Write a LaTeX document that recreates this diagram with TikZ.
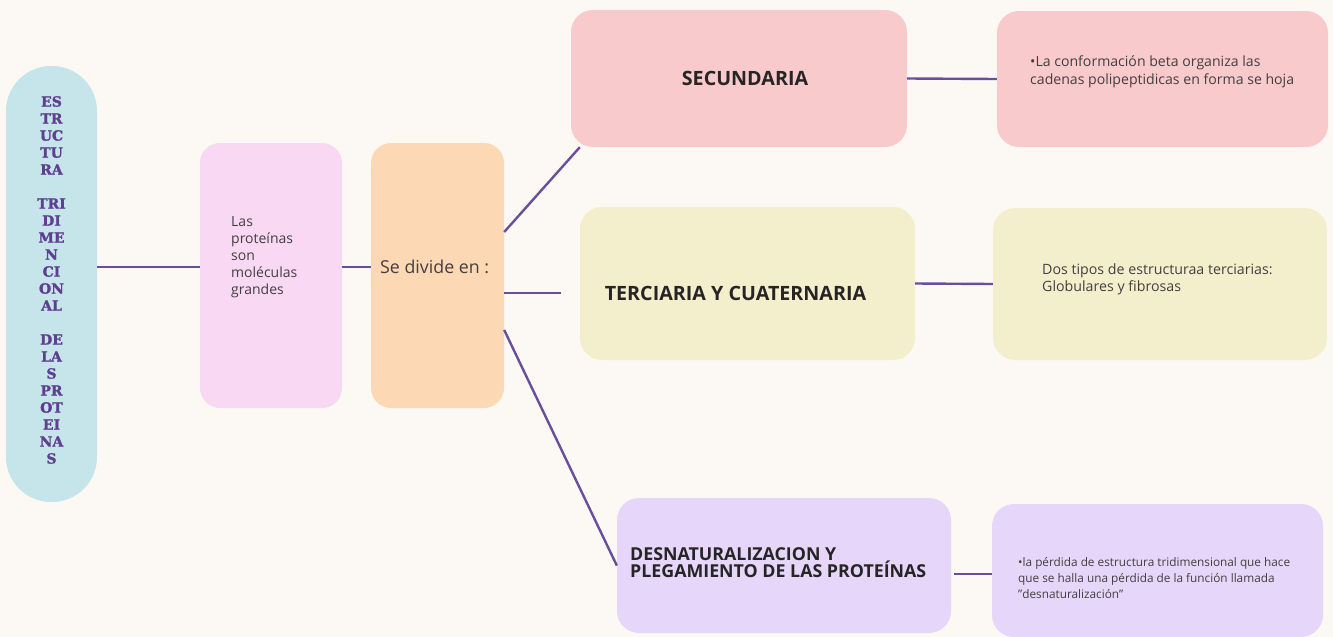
\documentclass[tikz,border=0pt]{standalone}
\usepackage{fontspec}
\setmainfont{Open Sans}
\newfontfamily\slabfont{DejaVu Serif}[BoldFeatures={FakeBold=1.5}]
\newfontfamily\headfont{Open Sans}
\usetikzlibrary{calc}
\definecolor{bgc}{HTML}{FCF9F4}
\definecolor{cblue}{HTML}{C6E5EA}
\definecolor{clas}{HTML}{F8D8F3}
\definecolor{cpeach}{HTML}{FDD8B5}
\definecolor{csec}{HTML}{F9CACB}
\definecolor{cter}{HTML}{F3EFCD}
\definecolor{cdes}{HTML}{E5D6FA}
\definecolor{cline}{HTML}{6B4E9B}
\definecolor{ccol}{HTML}{5E3F90}
\definecolor{ctxt}{HTML}{433F3F}
\definecolor{chead}{HTML}{262424}
\tikzset{
  box/.style={draw=none, inner sep=0pt, rounded corners=22pt},
  link/.style={draw=cline, line width=2.4pt},
  body/.style={inner sep=0pt, align=left, text=ctxt},
  head/.style={inner sep=0pt, align=left, text=chead, font=\headfont\bfseries},
}
\begin{document}
\begin{tikzpicture}[x=1pt, y=-1pt]
\fill[bgc] (0,0) rectangle (1333,637);
\useasboundingbox (0,0) rectangle (1333,637);
% boxes
\node[box, fill=cblue, rounded corners=45pt, minimum width=91pt, minimum height=436pt] (blue) at (51.5,284) {};
\node[box, fill=clas, rounded corners=20pt, minimum width=142pt, minimum height=265pt] (las) at (271,275.5) {};
\node[box, fill=cpeach, rounded corners=20pt, minimum width=133pt, minimum height=265pt] (peach) at (437.5,275.5) {};
\node[box, fill=csec, minimum width=336pt, minimum height=137pt] (sec) at (739,78.5) {};
\node[box, fill=cter, minimum width=335pt, minimum height=153pt] (ter) at (747.5,283.5) {};
\node[box, fill=cdes, minimum width=334pt, minimum height=135pt] (des) at (784,565.5) {};
\node[box, fill=csec, minimum width=331pt, minimum height=136pt] (r1) at (1162.5,79) {};
\node[box, fill=cter, minimum width=334pt, minimum height=152pt] (r2) at (1160,284) {};
\node[box, fill=cdes, minimum width=331pt, minimum height=133pt] (r3) at (1157.5,570.5) {};
% texts
\node[inner sep=0pt, align=center, text=ccol, font=\slabfont\bfseries\fontsize{14}{17}\selectfont] (tblue) at (51.5,280)
  {ES\\TR\\UC\\TU\\RA\\\mbox{}\\TRI\\DI\\ME\\N\\CI\\ON\\AL\\\mbox{}\\DE\\LA\\S\\PR\\OT\\EI\\NA\\S};
\node[body, anchor=west, font=\fontsize{14}{17}\selectfont] (tlas) at (231,257)
  {Las\\proteínas\\son\\moléculas\\grandes};
\node[body, anchor=west, font=\fontsize{17.8}{20}\selectfont] (tpeach) at (380,267) {Se divide en :};
\node[head, font=\headfont\bfseries\fontsize{19.7}{20}\selectfont] (tsec) at (745,78) {SECUNDARIA};
\node[head, font=\headfont\bfseries\fontsize{19.7}{20}\selectfont] (tter) at (735.5,293) {TERCIARIA Y CUATERNARIA};
\node[head, anchor=west, font=\headfont\bfseries\fontsize{17.8}{15.5}\selectfont] (tdes) at (630,562.5)
  {DESNATURALIZACION Y\\PLEGAMIENTO DE LAS PROTEÍNAS};
\node[body, anchor=west, font=\fontsize{14.1}{18}\selectfont] (tr1) at (1030,72)
  {•La conformación beta organiza las\\cadenas polipeptidicas en forma se hoja};
\node[body, anchor=west, font=\fontsize{14.2}{17}\selectfont] (tr2) at (1042,279.5)
  {Dos tipos de estructuraa terciarias:\\Globulares y fibrosas};
\node[body, anchor=west, font=\fontsize{11.8}{16}\selectfont] (tr3) at (1018,578)
  {•la pérdida de estructura tridimensional que hace\\que se halla una pérdida de la función llamada\\"desnaturalización"};
% connectors
\draw[link] ([yshift=17pt]blue.east) -- ([yshift=8.5pt]las.west);
\draw[link] ([yshift=8.5pt]las.east) -- ([yshift=8.5pt]peach.west);
\draw[link] ([yshift=43.5pt]peach.east) -- ([xshift=9pt]sec.south west);
\draw[link] ([yshift=-17.5pt]peach.east) -- ([xshift=-19pt,yshift=-9.5pt]ter.west);
\draw[link] ([yshift=-54.5pt]peach.east) -- (des.west);
\draw[link] (sec.east) -- (r1.west);
\draw[link] (ter.east) -- (r2.west);
\draw[link] ([xshift=3pt,yshift=-8.5pt]des.east) -- ([yshift=-3.5pt]r3.west);
\end{tikzpicture}
\end{document}
